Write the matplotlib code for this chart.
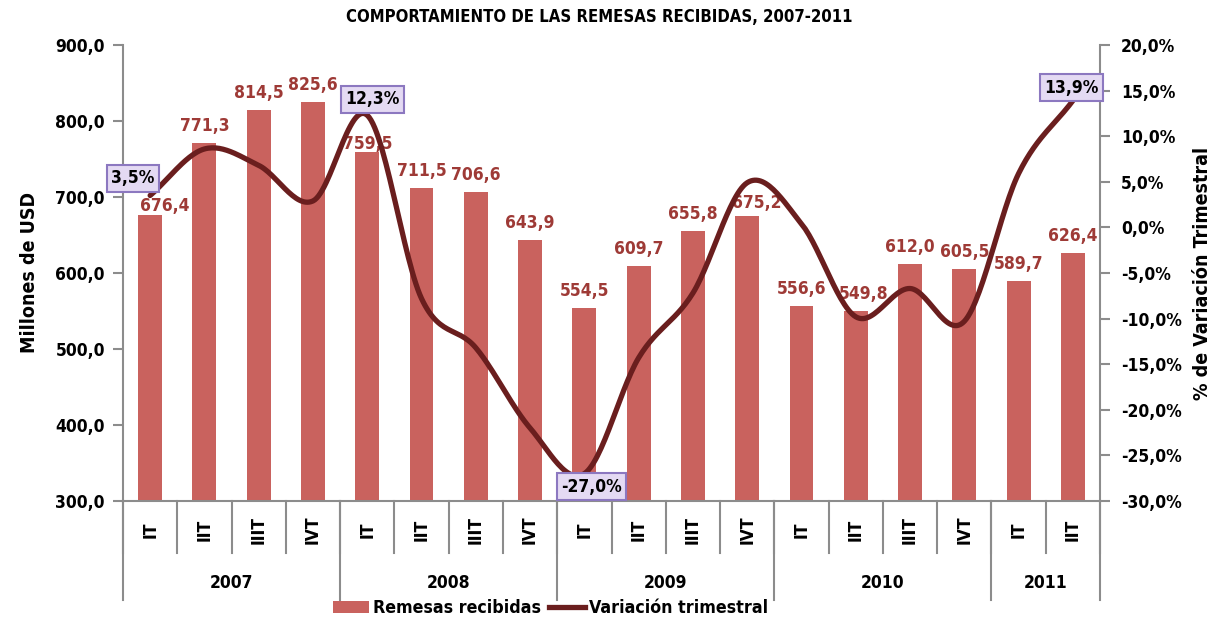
import numpy as np
import matplotlib
matplotlib.use("Agg")
import matplotlib.pyplot as plt
from matplotlib import font_manager
from matplotlib.patches import Patch
from matplotlib.lines import Line2D
from matplotlib.transforms import blended_transform_factory

# ---------------- data ----------------
years = ["2007", "2008", "2009", "2010", "2011"]
quarters_per_year = [4, 4, 4, 4, 2]
quarter_labels = ["IT", "IIT", "IIIT", "IVT", "IT", "IIT", "IIIT", "IVT",
                  "IT", "IIT", "IIIT", "IVT", "IT", "IIT", "IIIT", "IVT",
                  "IT", "IIT"]
remesas = [676.4, 771.3, 814.5, 825.6, 759.5, 711.5, 706.6, 643.9,
           554.5, 609.7, 655.8, 675.2, 556.6, 549.8, 612.0, 605.5,
           589.7, 626.4]
variacion = [3.5, 8.6, 6.8, 2.9, 12.3, -7.8, -13.2, -22.0,
             -27.0, -14.3, -7.2, 4.9, 0.4, -9.8, -6.7, -10.3,
             5.9, 13.9]
callout_idx = [0, 4, 8, 17]

# ---------------- style ----------------
fl = font_manager.fontManager.ttflist
cond = [f for f in fl if f.name == "DejaVu Sans" and f.stretch == "condensed"
        and f.weight in ("bold", 700)]
if cond:
    plt.rcParams["font.family"] = ["DejaVu Sans"]
    plt.rcParams["font.stretch"] = "condensed"
else:
    plt.rcParams["font.family"] = ["Liberation Sans", "DejaVu Sans"]
plt.rcParams["font.weight"] = "bold"

BAR_C = "#C9625E"
LINE_C = "#6A1E1E"
LAB_C = "#9E3A36"
AX_C = "#8C8C8C"

W, H = 1221, 621
fig = plt.figure(figsize=(W / 100, H / 100), dpi=100)
L, R, T, B = 123, 1100, 45, 501
ax = fig.add_axes([L / W, 1 - B / H, (R - L) / W, (B - T) / H])
axh = B - T

x = np.arange(len(remesas))
ax.bar(x, remesas, width=0.44, color=BAR_C, zorder=2)
ax.set_xlim(-0.5, len(remesas) - 0.5)
ax.set_ylim(300, 900)
ax.set_yticks(np.arange(300, 901, 100))
ax.set_yticklabels([f"{v:.1f}".replace(".", ",") for v in np.arange(300, 901, 100)],
                   fontsize=12.5, fontweight="bold")
ax.set_xticks([])
for s in ["top", "right"]:
    ax.spines[s].set_visible(False)
for s in ["left", "bottom"]:
    ax.spines[s].set_color(AX_C)
    ax.spines[s].set_linewidth(1.5)
ax.tick_params(axis="y", length=7, width=1.5, color=AX_C, pad=6)

fig.text(30 / W, 1 - 273 / H, "Millones de USD", rotation=90, ha="center",
         va="center", fontsize=14, fontweight="bold")
fig.text(1203 / W, 1 - 273 / H, "% de Variación Trimestral", rotation=90,
         ha="center", va="center", fontsize=14, fontweight="bold")

# bar labels
lab_dx = {0: 15, 11: 10, 13: 8}
lab_dy = {0: -8, 4: -9, 11: -4}
for i, v in enumerate(remesas):
    ax.annotate(f"{v:.1f}".replace(".", ","), (i, v),
                xytext=(lab_dx.get(i, 0) * 0.72, (17 + lab_dy.get(i, 0)) * 0.72),
                textcoords="offset points", ha="center", va="center",
                fontsize=12.5, fontweight="bold", color=LAB_C, zorder=3)

# secondary axis
ax2 = ax.twinx()
ax2.set_ylim(-30, 20)
yt = np.arange(-30, 21, 5)
ax2.set_yticks(yt)
ax2.set_yticklabels([f"{v:.1f}%".replace(".", ",") for v in yt], fontsize=12.5,
                    fontweight="bold")
for s in ["top", "left", "bottom"]:
    ax2.spines[s].set_visible(False)
ax2.spines["right"].set_color(AX_C)
ax2.spines["right"].set_linewidth(1.5)
ax2.tick_params(axis="y", length=7, width=1.5, color=AX_C, pad=8)

# smooth line (cubic Hermite / Catmull-Rom through the data points)
yv = np.array(variacion, dtype=float)
n = len(yv)
xs, ys = [], []
for k in range(n - 1):
    p0 = yv[k - 1] if k > 0 else yv[k]
    p1, p2 = yv[k], yv[k + 1]
    p3 = yv[k + 2] if k + 2 < n else yv[k + 1]
    m1 = (p2 - p0) / 2 if k > 0 else (p2 - p1)
    m2 = (p3 - p1) / 2 if k + 2 < n else (p2 - p1)
    t = np.linspace(0, 1, 30)
    h00 = 2 * t**3 - 3 * t**2 + 1
    h10 = t**3 - 2 * t**2 + t
    h01 = -2 * t**3 + 3 * t**2
    h11 = t**3 - t**2
    xs.append(k + t)
    ys.append(h00 * p1 + h10 * m1 + h01 * p2 + h11 * m2)
ax2.plot(np.concatenate(xs), np.concatenate(ys), color=LINE_C, lw=3.8,
         solid_capstyle="round", zorder=4)

# callouts
call_off = {0: (-17, 17), 4: (5, 16), 8: (7, -13), 17: (-1, 13)}
for i in callout_idx:
    dx, dy = call_off[i]
    ax2.annotate(f"{variacion[i]:.1f}%".replace(".", ","), (i, variacion[i]),
                 xytext=(dx * 0.72, dy * 0.72), textcoords="offset points",
                 ha="center", va="center", fontsize=12.5, fontweight="bold",
                 color="black", zorder=6, annotation_clip=False,
                 bbox=dict(boxstyle="square,pad=0.25", fc="#E4DAF3",
                           ec="#8C78C0", lw=1.5))

# two-level category axis
tr = blended_transform_factory(ax.transData, ax.transAxes)
def fy(px):
    return -px / axh

for b in range(len(remesas) + 1):
    ax.add_line(Line2D([b - 0.5, b - 0.5], [0, fy(52)], transform=tr,
                       color=AX_C, lw=1.5, clip_on=False))
for i, q in enumerate(quarter_labels):
    ax.text(i, fy(29), q, transform=tr, rotation=90, ha="center", va="center",
            fontsize=12.5, fontweight="bold", color="black")
start = 0
bounds = [-0.5]
for yr, nq in zip(years, quarters_per_year):
    ax.text(start + (nq - 1) / 2, fy(82), yr, transform=tr, ha="center",
            va="center", fontsize=12.5, fontweight="bold")
    start += nq
    bounds.append(start - 0.5)
for bnd in bounds:
    ax.add_line(Line2D([bnd, bnd], [0, fy(99)], transform=tr,
                       color=AX_C, lw=1.5, clip_on=False))

# title
fig.text(0.491, 1 - 17 / H, "COMPORTAMIENTO DE LAS REMESAS RECIBIDAS, 2007-2011",
         ha="center", va="center", fontsize=12, fontweight="bold")

# legend
handles = [Patch(facecolor=BAR_C, edgecolor="none"),
           Line2D([0], [0], color=LINE_C, lw=3.8)]
fig.legend(handles, ["Remesas recibidas", "Variación trimestral"],
           loc="center", bbox_to_anchor=(551 / W, 1 - 608 / H), ncol=2,
           frameon=False, handlelength=2.0, handletextpad=0.25,
           columnspacing=0.45, prop={"weight": "bold", "size": 12.8})

fig.savefig("out.png", dpi=100)
